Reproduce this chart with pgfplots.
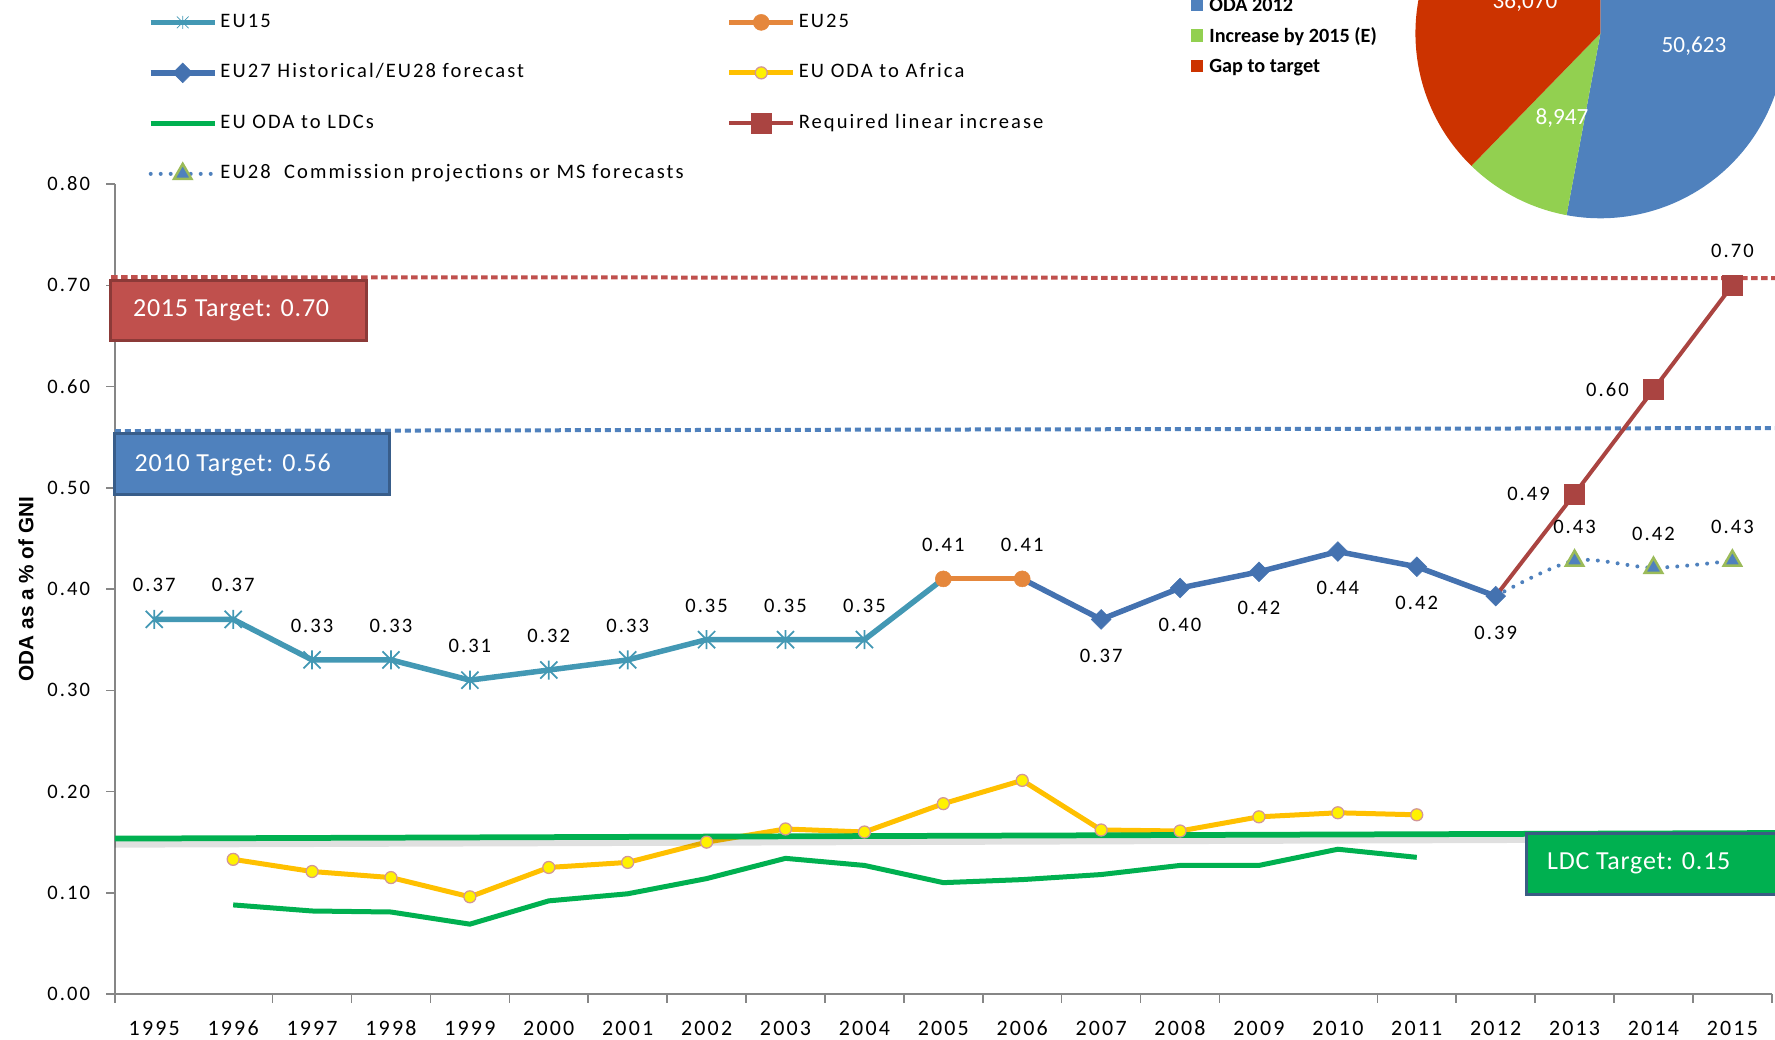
\documentclass[border=0pt]{standalone}
\usepackage{pgfplots}
\pgfplotsset{compat=1.18}
\usepackage{pgfplotstable}
\usepackage{fontspec}
\setmainfont{Carlito}
\newfontfamily\tfam{Carlito}[LetterSpace=10]
\newfontfamily\bfam{Carlito}[LetterSpace=3]
\newfontfamily\arialfont{Liberation Sans}

\definecolor{axisgray}{RGB}{134,134,134}
\definecolor{cfifteen}{RGB}{67,152,180}
\definecolor{ctwentyfive}{RGB}{229,135,60}
\definecolor{ctwentyseven}{RGB}{68,114,176}
\definecolor{cafrica}{RGB}{255,192,0}
\definecolor{cafricaedge}{RGB}{210,150,150}
\definecolor{ldcgreen}{RGB}{0,176,80}
\definecolor{creq}{RGB}{170,68,65}
\definecolor{cproj}{RGB}{79,129,189}
\definecolor{cprojedge}{RGB}{155,187,89}
\definecolor{tred}{RGB}{192,80,77}
\definecolor{tredd}{RGB}{140,58,56}
\definecolor{tblue}{RGB}{79,129,189}
\definecolor{tblued}{RGB}{56,93,138}
\definecolor{tgreend}{RGB}{58,92,131}
\definecolor{pieblue}{RGB}{79,129,189}
\definecolor{piegreen}{RGB}{146,208,80}
\definecolor{piered}{RGB}{204,51,0}

\newcommand\tf{\tfam\fontsize{11.7}{14}\selectfont}

% asterisk like the spreadsheet marker: vertical bar plus an X
\pgfdeclareplotmark{ast}{%
  \pgfpathmoveto{\pgfqpoint{0pt}{\pgfplotmarksize}}%
  \pgfpathlineto{\pgfqpoint{0pt}{-\pgfplotmarksize}}%
  \pgfpathmoveto{\pgfqpoint{-.9\pgfplotmarksize}{.9\pgfplotmarksize}}%
  \pgfpathlineto{\pgfqpoint{.9\pgfplotmarksize}{-.9\pgfplotmarksize}}%
  \pgfpathmoveto{\pgfqpoint{-.9\pgfplotmarksize}{-.9\pgfplotmarksize}}%
  \pgfpathlineto{\pgfqpoint{.9\pgfplotmarksize}{.9\pgfplotmarksize}}%
  \pgfusepathqstroke}

\pgfplotsset{
  sEUfifteen/.style={color=cfifteen, line width=1.1mm, mark=ast, mark size=1.9mm,
    mark options={line width=0.35mm}},
  sEUtwentyfive/.style={color=ctwentyfive, line width=1mm, mark=*, mark size=1.6mm,
    mark options={line width=0.1mm}},
  sEUtwentyseven/.style={color=ctwentyseven, line width=1.1mm, mark=square*, mark size=1.4mm,
    mark options={rotate=45, line width=0.1mm}},
  sAfrica/.style={color=cafrica, line width=1mm, mark=*, mark size=1.2mm,
    mark options={fill=yellow, draw=cafricaedge, line width=0.25mm}},
  sLDC/.style={color=ldcgreen, line width=1mm, mark=none},
  sReq/.style={color=creq, line width=0.8mm, mark=square*, mark size=2mm,
    mark options={line width=0.1mm}},
  sProj/.style={color=cproj, line width=0.8mm, line cap=round, dash pattern=on 0pt off 2mm,
    mark=triangle*, mark size=2mm,
    mark options={solid, fill=cproj, draw=cprojedge, line width=0.5mm}},
  lab/.style={draw=none, mark=none, forget plot, point meta=y,
    nodes near coords={\pgfmathprintnumber[fixed,fixed zerofill,precision=2,assume math mode=true]{\pgfplotspointmeta}},
    every node near coord/.append style={font=\tf, text=black, anchor=center, inner sep=0pt}},
  labup/.style={lab, every node near coord/.append style={yshift=6.8mm}},
  labdown/.style={lab, every node near coord/.append style={yshift=-7.3mm}},
  lableft/.style={lab, every node near coord/.append style={xshift=-9.2mm}},
}

\pgfplotstableread{
year val
1995 0.37
1996 0.37
1997 0.33
1998 0.33
1999 0.31
2000 0.32
2001 0.33
2002 0.35
2003 0.35
2004 0.35
2005 0.41
}\tEUfifteen

\pgfplotstableread{
year val
2005 0.41
2006 0.41
}\tEUtwentyfive

\pgfplotstableread{
year val
2006 0.41
2007 0.370
2008 0.401
2009 0.417
2010 0.437
2011 0.422
2012 0.393
}\tEUtwentyseven

\pgfplotstableread{
year val
1996 0.133
1997 0.121
1998 0.115
1999 0.096
2000 0.125
2001 0.130
2002 0.150
2003 0.163
2004 0.160
2005 0.188
2006 0.211
2007 0.162
2008 0.161
2009 0.175
2010 0.179
2011 0.177
}\tAfrica

\pgfplotstableread{
year val
1996 0.088
1997 0.082
1998 0.081
1999 0.069
2000 0.092
2001 0.099
2002 0.114
2003 0.134
2004 0.127
2005 0.110
2006 0.113
2007 0.118
2008 0.127
2009 0.127
2010 0.143
2011 0.135
}\tLDC

\pgfplotstableread{
year val
2012 0.393
2013 0.494
2014 0.597
2015 0.700
}\tReq

\pgfplotstableread{
year val
2012 0.393
2013 0.428
2014 0.421
2015 0.428
}\tProj

% pie: EU ODA in EUR million
\def\pieA{50623}
\def\pieB{8947}
\def\pieC{36070}

\begin{document}
\begin{tikzpicture}
\begin{axis}[
  at={(0,0)}, anchor=south west,
  scale only axis, width=331.4mm, height=162mm,
  xmin=1994.5, xmax=2015.5, ymin=0, ymax=0.8,
  axis lines*=left,
  axis line style={draw=axisgray, line width=0.3mm},
  clip=false,
  tick align=outside, major tick length=1.7mm,
  tick style={draw=axisgray, line width=0.3mm},
  xtick={1994.5,1996.5,1997.5,1998.5,1999.5,2000.5,2001.5,2002.5,2003.5,2004.5,2005.5,2006.5,2007.5,2008.5,2010.5,2011.5,2012.5,2013.5,2014.5,2015.5},
  xticklabel={\mbox{}},
  extra x ticks={1995,1996,1997,1998,1999,2000,2001,2002,2003,2004,2005,2006,2007,2008,2009,2010,2011,2012,2013,2014,2015},
  extra x tick labels={1995,1996,1997,1998,1999,2000,2001,2002,2003,2004,2005,2006,2007,2008,2009,2010,2011,2012,2013,2014,2015},
  extra x tick style={major tick length=0pt},
  xticklabel style={font=\tfam\fontsize{12.5}{15}\selectfont, yshift=-4.2mm, text height=2.8mm, text depth=0pt},
  ytick={0,0.1,0.2,0.3,0.4,0.5,0.6,0.7,0.8},
  yticklabel style={/pgf/number format/.cd, fixed, fixed zerofill, precision=2, assume math mode=true,
    /tikz/.cd, font=\tf, xshift=-2mm},
  ticklabel style={text=black},
  ylabel={ODA as a \% of GNI},
  ylabel style={font=\arialfont\bfseries\fontsize{11.8}{14}\selectfont, at={(rel axis cs:-0.0536,0.5)}, anchor=center},
  legend style={draw=none, fill=none, inner sep=0pt,
    at={(rel axis cs:0.0198,1.2148)}, anchor=north west,
    font=\tf, legend columns=2,
    /tikz/every even column/.append style={column sep=8mm},
    row sep=5.3mm,
    nodes={inner sep=0.6mm, text height=2.8mm, text depth=0.8mm}},
  legend cell align=left,
  legend image code/.code={\draw[mark repeat=2,mark phase=2,#1] plot coordinates {(0mm,0mm)(6.4mm,0mm)(12.8mm,0mm)};},
]
% LDC and Africa
\addplot[sLDC, forget plot] table[x=year,y=val] {\tLDC};
\addplot[sAfrica, forget plot] table[x=year,y=val] {\tAfrica};
% target lines
\addplot[forget plot, black, opacity=0.12, line width=1.4mm] coordinates {(1994.5,0.1480)(2015.545,0.1535)};
\addplot[forget plot, ldcgreen, line width=1.15mm] coordinates {(1994.5,0.1535)(2015.545,0.159)};
\addplot[forget plot, tred, line width=0.8mm, dash pattern=on 1.3mm off 0.7mm] coordinates {(1994.452,0.708)(2015.545,0.707)};
\addplot[forget plot, tblue, line width=0.8mm, dash pattern=on 1.2mm off 0.8mm] coordinates {(1994.5,0.556)(2015.545,0.559)};
% main series
\addplot[sEUfifteen, forget plot, mark indices={1,...,10}] table[x=year,y=val] {\tEUfifteen};
\addplot[sEUtwentyseven, forget plot, mark indices={2,...,7}] table[x=year,y=val] {\tEUtwentyseven};
\addplot[sEUtwentyfive, forget plot] table[x=year,y=val] {\tEUtwentyfive};
\addplot[sProj, forget plot, smooth, mark indices={2,3,4}] table[x=year,y=val] {\tProj};
\addplot[sReq, forget plot, mark indices={2,3,4}] table[x=year,y=val] {\tReq};
% value labels
\addplot[labup, skip coords between index={10}{11}] table[x=year,y=val] {\tEUfifteen};
\addplot[labup] table[x=year,y=val] {\tEUtwentyfive};
\addplot[labdown, skip coords between index={0}{1}] table[x=year,y=val] {\tEUtwentyseven};
\addplot[labup, skip coords between index={0}{1}] table[x=year,y=val] {\tProj};
\addplot[lableft, skip coords between index={0}{1}, skip coords between index={3}{4}] table[x=year,y=val] {\tReq};
\addplot[labup, skip coords between index={0}{3}] table[x=year,y=val] {\tReq};
% legend
\addlegendimage{sEUfifteen, mark size=1.3mm, mark options={line width=0.15mm}}\addlegendentry{EU15}
\addlegendimage{sEUtwentyfive}\addlegendentry{EU25}
\addlegendimage{sEUtwentyseven}\addlegendentry{EU27 Historical/EU28 forecast}
\addlegendimage{sAfrica}\addlegendentry{EU ODA to Africa}
\addlegendimage{sLDC}\addlegendentry{EU ODA to LDCs}
\addlegendimage{sReq}\addlegendentry{Required linear increase}
\addlegendimage{sProj}\addlegendentry{EU28\ \ Commission projections or MS forecasts}
\end{axis}

% pie of ODA 2012, increase and gap
\edef\angA{\fpeval{90-360*\pieA/(\pieA+\pieB+\pieC)}}
\edef\angB{\fpeval{\angA-360*\pieB/(\pieA+\pieB+\pieC)}}
\coordinate (pc) at (297.12mm,192.14mm);
\fill[pieblue] (pc) -- +(90:37mm) arc[start angle=90, end angle=\angA, radius=37mm] -- cycle;
\fill[piegreen] (pc) -- +(\angA:37mm) arc[start angle=\angA, end angle=\angB, radius=37mm] -- cycle;
\fill[piered] (pc) -- +(\angB:37mm) arc[start angle=\angB, end angle=-270, radius=37mm] -- cycle;

% annotations in picture pixels
\begin{scope}[x=0.2mm, y=-0.2mm, shift={(-22.96mm,198.8mm)}]
  \draw[fill=tred, draw=tredd, line width=0.6mm] (111,281) rectangle (366.7,341);
  \node[anchor=base west, inner sep=0, text=white, font=\bfam\fontsize{14.8}{17}\selectfont] at (132.7,316.7) {2015 Target: 0.70};
  \draw[fill=tblue, draw=tblued, line width=0.6mm] (115,434) rectangle (389,495);
  \node[anchor=base west, inner sep=0, text=white, font=\bfam\fontsize{14.8}{17}\selectfont] at (134.3,471.7) {2010 Target: 0.56};
  \draw[fill=ldcgreen, draw=tgreend, line width=0.6mm] (1526.7,833.3) rectangle (1790,894.3);
  \node[anchor=base west, inner sep=0, text=white, font=\bfam\fontsize{14.8}{17}\selectfont] at (1546.7,869) {LDC Target: 0.15};
  % pie labels
  \node[anchor=base, inner sep=0, text=white, font=\fontsize{13.2}{16}\selectfont] at (1694,52.3) {50,623};
  \node[anchor=base, inner sep=0, text=white, font=\fontsize{13.2}{16}\selectfont] at (1562,125) {8,947};
  \node[anchor=base, inner sep=0, text=white, font=\fontsize{13.2}{16}\selectfont] at (1525,8.3) {36,070};
  % pie legend
  \fill[pieblue] (1191,-1) rectangle (1203,11.5);
  \fill[piegreen] (1191,29.5) rectangle (1203,42.3);
  \fill[piered] (1191,60) rectangle (1203,72.5);
  \node[anchor=base west, inner sep=0, font=\bfseries\fontsize{11.5}{14}\selectfont] at (1209,12) {ODA 2012};
  \node[anchor=base west, inner sep=0, font=\bfseries\fontsize{11.5}{14}\selectfont] at (1209,42.7) {Increase by 2015 (E)};
  \node[anchor=base west, inner sep=0, font=\bfseries\fontsize{11.5}{14}\selectfont] at (1209,72.3) {Gap to target};
  \pgfresetboundingbox
  \path[use as bounding box] (0,0) rectangle (1775,1039);
\end{scope}
\end{tikzpicture}
\end{document}
